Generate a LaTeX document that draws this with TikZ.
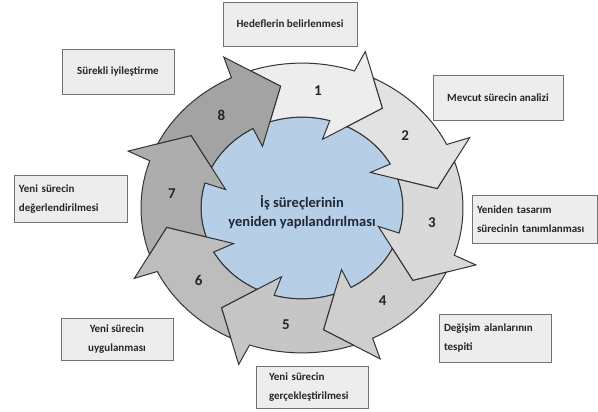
\documentclass[tikz,border=0pt]{standalone}
\usepackage{fontspec}
\setmainfont{Carlito}
\usepackage{xcolor}
\usepackage{tikz}
\usetikzlibrary{calc, positioning}
\definecolor{arrI}{gray}{0.93}
\definecolor{arrII}{gray}{0.885}
\definecolor{arrIII}{gray}{0.85}
\definecolor{arrIV}{gray}{0.81}
\definecolor{arrV}{gray}{0.775}
\definecolor{arrVI}{gray}{0.74}
\definecolor{arrVII}{gray}{0.68}
\definecolor{arrVIII}{gray}{0.64}
\definecolor{coreblue}{RGB}{183,206,231}
\definecolor{coretext}{RGB}{30,40,55}
\tikzset{
    segment/.style={draw=black!80, line width=1pt, line join=miter},
    core/.style={draw=black!80, line width=1pt, fill=coreblue},
    coretext/.style={align=center, font=\fontsize{14.5}{19}\selectfont\bfseries, text=coretext},
    stepnum/.style={font=\fontsize{15}{15}\selectfont\bfseries, text=black!85},
    stagebox/.style={rectangle, draw=black!55, line width=0.8pt, fill=black!7, inner sep=0pt, font=\fontsize{11}{19}\selectfont\bfseries, text=black!85},
    leftbox/.style={stagebox, align=left, inner xsep=5pt, text width=#1},
    midbox/.style={stagebox, align=center}
}

\begin{document}
\begin{tikzpicture}[x=1pt, y=1pt]
    \useasboundingbox (0,0) rectangle (598,412);

    % Cycle
    \begin{scope}[shift={(302,204)}, yscale=0.9]
        \filldraw[core] (0,0) circle[radius=101];
        \foreach \a/\col/\num in {54/arrI/1, 9/arrII/2, -36/arrIII/3, -81/arrIV/4, -126/arrV/5, -171/arrVI/6, -216/arrVII/7, -261/arrVIII/8}{
            \filldraw[segment, fill=\col] ({\a+54.7}:161) arc[start angle={\a+54.7}, end angle={\a+17}, radius=161]
                -- ({\a+16}:185) -- (\a:137) -- ({\a+21}:79) -- ({\a+20}:101)
                arc[start angle={\a+20}, end angle={\a+54.5}, radius=101] -- ({\a+45}:137) -- cycle;
            \node[stepnum] (n\num) at ({\a+29}:131) {\num};
        }
        \node[coretext] (center) at (0,-4) {İş süreçlerinin\\yeniden yapılandırılması};
    \end{scope}

    % Stages
    \node[midbox, minimum width=134, minimum height=44] (hedef) at (290,388) {Hedeflerin belirlenmesi};
    \node[midbox, minimum width=112, minimum height=45] (surekli) at (118,340) {Sürekli iyileştirme};
    \node[midbox, minimum width=130, minimum height=45] (mevcut) at (498,314) {Mevcut sürecin analizi};
    \node[leftbox=103, minimum height=47] (degerlendirme) at (70.5,213) {Yeni sürecin\\değerlendirilmesi};
    \node[leftbox=115, minimum height=48] (tasarim) at (534.5,193) {Yeniden tasarım\\sürecinin tanımlanması};
    \node[midbox, minimum width=112, minimum height=42] (uygulama) at (117,73) {Yeni sürecin\\uygulanması};
    \node[leftbox=102, minimum height=48] (degisim) at (495,74) {Değişim alanlarının\\tespiti};
    \node[leftbox=102, minimum height=42] (gercek) at (312,25) {\hspace*{8pt}Yeni sürecin\\\hspace*{8pt}gerçekleştirilmesi};
\end{tikzpicture}
\end{document}
